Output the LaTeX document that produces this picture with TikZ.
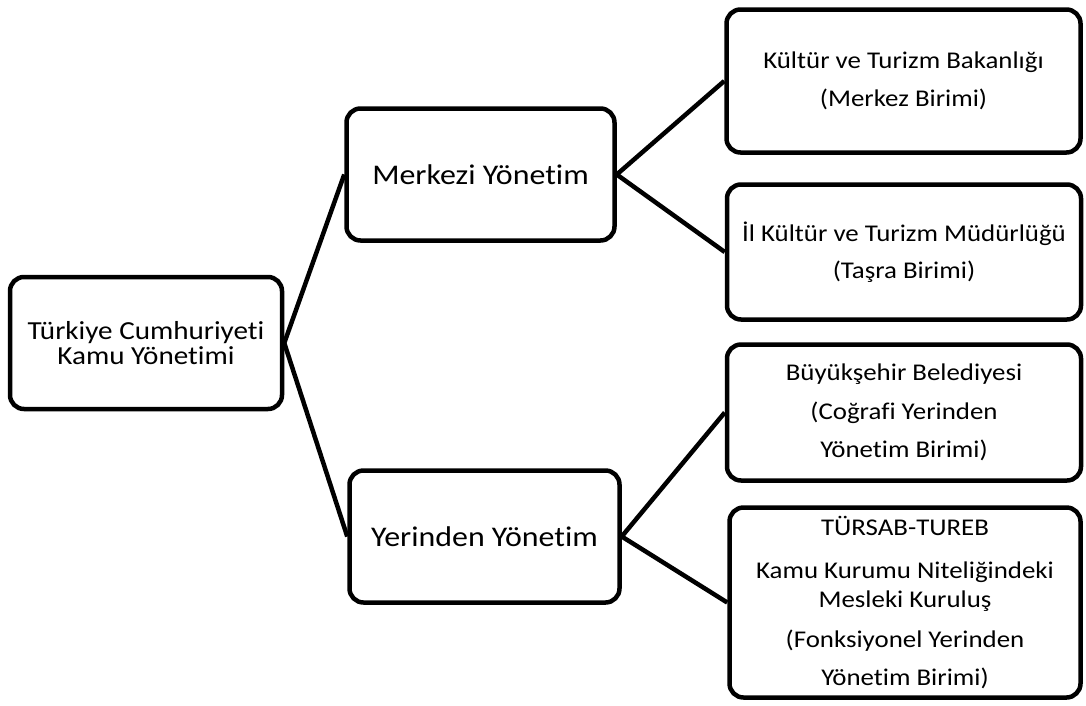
\documentclass[tikz,border=0pt]{standalone}
\usepackage{fontspec}
\setmainfont[FakeStretch=1.12, Ligatures=NoCommon]{Carlito}
\begin{document}
\begin{tikzpicture}[x=1pt,y=-1pt,
  unit/.style={draw, line width=4.5pt, rounded corners=14pt, inner sep=0pt,
    align=center, fill=white},
  link/.style={line width=4.5pt}]
\useasboundingbox[fill=white] (0,0) rectangle (1086,705);

% root
\node[unit, minimum width=272pt, minimum height=132pt,
  font=\fontsize{26}{25}\selectfont] (root) at (146,343)
  {Türkiye Cumhuriyeti\\Kamu Yönetimi};

% second level
\node[unit, minimum width=268pt, minimum height=132pt,
  font=\fontsize{28.5}{34}\selectfont] (merkezi) at (480.5,174.5) {Merkezi Yönetim};
\node[unit, minimum width=270pt, minimum height=132pt,
  font=\fontsize{28.5}{34}\selectfont] (yerinden) at (484.5,536.5) {Yerinden Yönetim};

% third level
\node[unit, minimum width=354pt, minimum height=143pt,
  font=\fontsize{24}{29}\selectfont] (bakanlik) at (903.5,81)
  {Kültür ve Turizm Bakanlığı\\[9pt](Merkez Birimi)};
\node[unit, minimum width=354pt, minimum height=135pt,
  font=\fontsize{24}{29}\selectfont] (mudurluk) at (904,252)
  {İl Kültür ve Turizm Müdürlüğü\\[8pt](Taşra Birimi)};
\node[unit, minimum width=354pt, minimum height=136pt,
  font=\fontsize{24}{29}\selectfont] (belediye) at (904,412.5)
  {Büyükşehir Belediyesi\\[10pt](Coğrafi Yerinden\\[9pt]Yönetim Birimi)};
\node[unit, minimum width=351pt, minimum height=190pt,
  font=\fontsize{24}{29}\selectfont] (tursab) at (905,602.5)
  {TÜRSAB-TUREB\\[14pt]Kamu Kurumu Niteliğindeki\\Mesleki Kuruluş\\[11pt](Fonksiyonel Yerinden\\[9pt]Yönetim Birimi)};

% connectors
\draw[link] (root.east) -- (merkezi.west);
\draw[link] (root.east) -- (yerinden.west);
\draw[link] (merkezi.east) -- (bakanlik.west);
\draw[link] (merkezi.east) -- (mudurluk.west);
\draw[link] (yerinden.east) -- (belediye.west);
\draw[link] (yerinden.east) -- (tursab.west);
\end{tikzpicture}
\end{document}
